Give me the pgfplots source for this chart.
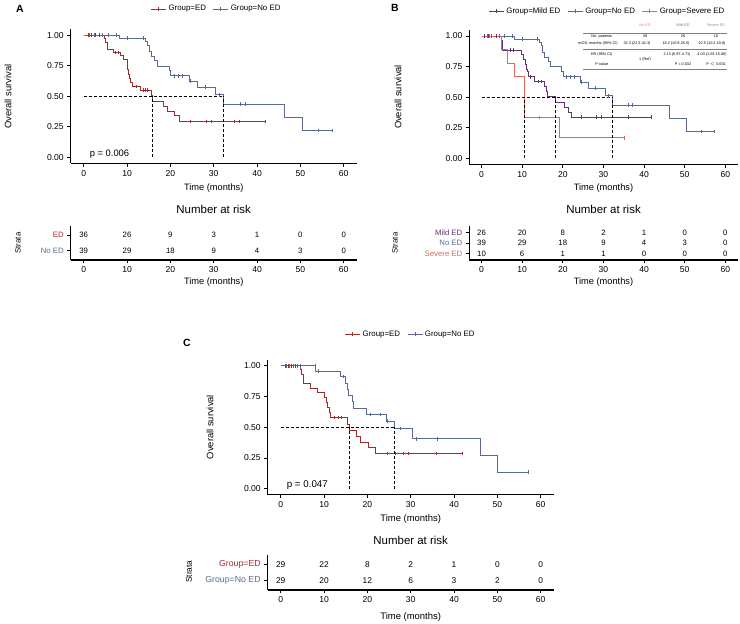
\documentclass[border=0pt]{standalone}
\usepackage{pgfplots}
\pgfplotsset{compat=1.18}
\usepackage{fontspec}
\setmainfont{Liberation Sans}

\definecolor{edred}{HTML}{9E2B2E}
\definecolor{noedblue}{HTML}{5A6A94}
\definecolor{mildpur}{HTML}{5E3470}
\definecolor{sevred}{HTML}{E0655A}

\newcommand{\fs}[1]{\fontsize{#1}{#1}\selectfont}

\pgfplotsset{
  base/.style={
    scale only axis, xmin=-3, xmax=63,
    axis lines=left, axis line style={-, line width=1.1pt, black},
    tick align=outside, major tick length=3.5bp,
    tick style={black, line width=0.8pt},
    xtick={0,10,...,60},
    /pgf/number format/assume math mode=true,
    ticklabel style={font=\fs{8.6}},
    clip=false,
  },
  kmaxis/.style={base,
    ymin=-0.05, ymax=1.05,
    ytick={0,0.25,0.5,0.75,1},
    yticklabel style={/pgf/number format/.cd, fixed, fixed zerofill, precision=2},
    legend style={draw=none, fill=none, font=\fs{7.9}, legend columns=-1,
      /tikz/every even column/.append style={column sep=5bp}},
    legend image code/.code={\draw[mark repeat=2, mark phase=2, #1]
      plot coordinates {(0bp,0bp) (7.5bp,0bp) (15bp,0bp)};},
  },
  riskaxis/.style={base,
    yticklabel style={font=\fs{7.8}},
  },
  curve/.style={#1, const plot, line width=0.9pt, forget plot},
  cens/.style={#1, only marks, mark=|, mark size=1.8bp, mark options={line width=0.7pt}, forget plot},
  leg/.style={#1, line width=0.9pt, mark=|, mark size=2bp},
  med/.style={black, dashed, dash pattern=on 3bp off 2bp, line width=0.7pt, forget plot},
  risknums/.style={only marks, mark=none, nodes near coords, point meta=explicit symbolic,
    nodes near coords align={center}, every node near coord/.append style={font=\fs{#1}, black, inner sep=0.5bp}, forget plot},
}

% Number at risk, panel A
\pgfplotstableread{
t y n
0 2 36
10 2 26
20 2 9
30 2 3
40 2 1
50 2 0
60 2 0
0 1 39
10 1 29
20 1 18
30 1 9
40 1 4
50 1 3
60 1 0
}\riskA

% Number at risk, panel B
\pgfplotstableread{
t y n
0 3 26
10 3 20
20 3 8
30 3 2
40 3 1
50 3 0
60 3 0
0 2 39
10 2 29
20 2 18
30 2 9
40 2 4
50 2 3
60 2 0
0 1 10
10 1 6
20 1 1
30 1 1
40 1 0
50 1 0
60 1 0
}\riskB

% Number at risk, panel C
\pgfplotstableread{
t y n
0 2 29
10 2 22
20 2 8
30 2 2
40 2 1
50 2 0
60 2 0
0 1 29
10 1 20
20 1 12
30 1 6
40 1 3
50 1 2
60 1 0
}\riskC

% Survival curves (cohort 1)
\pgfplotstableread{
t s
0 1
4.8 0.969
5.1 0.938
5.4 0.886
6.8 0.858
8.4 0.830
9.2 0.800
10.0 0.760
10.2 0.720
10.4 0.680
10.6 0.645
10.9 0.615
11.3 0.578
13.2 0.550
15.6 0.505
15.9 0.459
18.3 0.417
19.4 0.378
21.0 0.338
22.2 0.293
42.0 0.293
}\kmAed
\pgfplotstableread{
t s
1.1 1
1.8 1
2.8 1
3.7 1
7.3 0.858
7.9 0.858
12.2 0.578
13.8 0.550
14.3 0.550
14.8 0.550
24.7 0.293
28.3 0.293
29.5 0.293
34.8 0.293
36.0 0.293
42.0 0.293
}\cnAed
\pgfplotstableread{
t s
0 1
8.2 0.974
14.2 0.947
14.7 0.919
15.1 0.864
15.6 0.822
16.4 0.795
17.0 0.747
19.7 0.707
20.1 0.667
24.3 0.624
26.2 0.573
30.5 0.510
32.3 0.435
46.3 0.327
50.4 0.218
57.3 0.218
}\kmNoed
\pgfplotstableread{
t s
1.4 1
2.4 1
4.3 1
5.6 1
7.6 1
10.0 0.974
13.8 0.974
21.0 0.667
21.8 0.667
22.8 0.667
24.6 0.624
28.0 0.573
31.3 0.510
36.2 0.435
37.2 0.435
54.1 0.218
57.3 0.218
}\cnNoed
\pgfplotstableread{
t s
0 1
4.8 0.962
5.1 0.885
9.8 0.846
10.4 0.808
10.8 0.769
11.1 0.729
11.3 0.708
11.6 0.667
13.1 0.627
15.4 0.585
15.9 0.547
16.2 0.509
18.2 0.457
20.5 0.416
21.5 0.378
22.2 0.337
41.9 0.337
}\kmMild
\pgfplotstableread{
t s
0.8 1
1.6 1
2.5 1
3.7 1
7.0 0.885
7.8 0.885
11.9 0.667
14.0 0.627
14.8 0.627
24.6 0.337
28.2 0.337
29.6 0.337
36.1 0.337
41.9 0.337
}\cnMild
\pgfplotstableread{
t s
0 1
4.9 0.889
6.3 0.778
8.2 0.667
10.5 0.333
19.2 0.167
35.2 0.167
}\kmSev
\pgfplotstableread{
t s
2.0 1
14.3 0.333
35.2 0.167
}\cnSev

% Survival curves (cohort 2)
\pgfplotstableread{
t s
0 1
4.6 0.966
4.9 0.931
5.2 0.857
6.8 0.818
8.5 0.779
10.2 0.740
10.6 0.701
10.9 0.662
11.2 0.623
11.5 0.578
15.4 0.524
15.8 0.470
17.5 0.423
18.3 0.377
20.2 0.333
21.8 0.287
42.0 0.287
}\kmCed
\pgfplotstableread{
t s
1.0 1
1.8 1
2.5 1
3.3 1
12.4 0.578
13.2 0.578
14.0 0.578
24.6 0.287
26.4 0.287
28.2 0.287
29.5 0.287
36.0 0.287
42.0 0.287
}\cnCed
\pgfplotstableread{
t s
0 1
8.1 0.957
13.8 0.913
15.0 0.859
15.3 0.808
15.6 0.757
16.6 0.707
16.9 0.656
19.9 0.605
24.3 0.550
26.2 0.489
30.4 0.405
46.2 0.270
50.1 0.135
57.2 0.135
}\kmCnoed
\pgfplotstableread{
t s
1.2 1
2.0 1
2.9 1
3.8 1
4.6 1
7.9 1
8.6 0.957
14.4 0.913
20.6 0.605
22.9 0.605
24.7 0.550
27.6 0.489
31.4 0.405
36.2 0.405
57.2 0.135
}\cnCnoed

\begin{document}
\begin{tikzpicture}[x=1bp, y=1bp]
\useasboundingbox (0,0) rectangle (740,624);

% ---------------- Panel A ----------------
\begin{axis}[kmaxis, at={(70.7bp,460.7bp)}, anchor=south west,
  width=286bp, height=134.3bp,
  legend style={at={(0.51,1.149)}, anchor=center}]
  \addlegendimage{leg=edred}\addlegendentry{Group=ED}
  \addlegendimage{leg=noedblue}\addlegendentry{Group=No ED}
  \addplot[curve=edred] table {\kmAed};
  \addplot[curve=noedblue] table {\kmNoed};
  \addplot[cens=edred] table {\cnAed};
  \addplot[cens=noedblue] table {\cnNoed};
  \addplot[med] coordinates {(0,0.5) (32.3,0.5)};
  \addplot[med] coordinates {(15.9,0) (15.9,0.5)};
  \addplot[med] coordinates {(32.3,0) (32.3,0.5)};
  \node[anchor=west, font=\fs{9.4}] at (axis cs:0.6,0.025) {p = 0.006};
\end{axis}

\begin{axis}[riskaxis, at={(70.7bp,364bp)}, anchor=south west,
  width=286bp, height=34bp, ymin=0.4, ymax=2.6,
  ytick={1,2}, yticklabels={\textcolor{noedblue}{No ED}, \textcolor{edred}{ED}}]
  \addplot[risknums=7.8] table[x=t, y=y, meta=n] {\riskA};
\end{axis}

\node[font=\bfseries\fs{10.5}] at (20,615) {A};
\node[rotate=90, font=\fs{9.4}] at (8,527.3) {Overall survival};
\node[font=\fs{9.3}] at (213.7,436.3) {Time (months)};
\node[font=\fs{11.5}] at (213.7,415) {Number at risk};
\node[rotate=90, font=\fs{7.8}] at (18,381) {Strata};
\node[font=\fs{9.3}] at (213.7,342) {Time (months)};

% ---------------- Panel B ----------------
\begin{axis}[kmaxis, at={(469.3bp,459.6bp)}, anchor=south west,
  width=268.2bp, height=134.5bp,
  legend style={at={(0.515,1.14)}, anchor=center}]
  \addlegendimage{leg=mildpur}\addlegendentry{Group=Mild ED}
  \addlegendimage{leg=noedblue}\addlegendentry{Group=No ED}
  \addlegendimage{leg=sevred}\addlegendentry{Group=Severe ED}
  \addplot[curve=mildpur] table {\kmMild};
  \addplot[curve=noedblue] table {\kmNoed};
  \addplot[curve=sevred] table {\kmSev};
  \addplot[cens=mildpur] table {\cnMild};
  \addplot[cens=noedblue] table {\cnNoed};
  \addplot[cens=sevred] table {\cnSev};
  \addplot[med] coordinates {(0,0.5) (32.3,0.5)};
  \addplot[med] coordinates {(10.5,0) (10.5,0.5)};
  \addplot[med] coordinates {(18.2,0) (18.2,0.5)};
  \addplot[med] coordinates {(32.3,0) (32.3,0.5)};
\end{axis}

\begin{axis}[riskaxis, at={(469.3bp,364bp)}, anchor=south west,
  width=268.2bp, height=34bp, ymin=0.4, ymax=3.6,
  ytick={1,2,3}, yticklabels={\textcolor{sevred}{Severe ED}, \textcolor{noedblue}{No ED}, \textcolor{mildpur}{Mild ED}}]
  \addplot[risknums=7.8] table[x=t, y=y, meta=n] {\riskB};
\end{axis}

\node[font=\bfseries\fs{10.5}] at (395,616) {B};
\node[rotate=90, font=\fs{9.4}] at (398,527) {Overall survival};
\node[font=\fs{9.3}] at (603.5,435.7) {Time (months)};
\node[font=\fs{11.5}] at (603.5,415) {Number at risk};
\node[rotate=90, font=\fs{7.8}] at (395,381) {Strata};
\node[font=\fs{9.3}] at (603.5,342) {Time (months)};

% hazard ratio summary
\begin{scope}[font=\fs{3.8}]
  \node[text=sevred!80] at (645,599) {No ED};
  \node[text=mildpur!70] at (683,599) {Mild ED};
  \node[text=noedblue!70] at (716,599) {Severe ED};
  \draw[gray, line width=0.3bp] (583,591.3) -- (727,591.3);
  \node at (601.7,587.3) {No. patients};
  \node at (645,587.3) {39};
  \node at (683,587.3) {26};
  \node at (716,587.3) {10};
  \node at (598,580.7) {mOS, months (95\% CI)};
  \node at (637,580.7) {32.3 (22.3-42.3)};
  \node at (676,580.7) {18.2 (10.9-25.5)};
  \node at (712,580.7) {10.5 (10.2-10.8)};
  \draw[gray, line width=0.3bp] (583,574.7) -- (727,574.7);
  \node at (601.7,569) {HR (95\% CI)};
  \node at (645,564.5) {1 (Ref)};
  \node at (677,569) {2.13 (0.97-4.71)};
  \node at (712,569) {4.03 (1.03-15.88)};
  \node at (601.7,559.7) {P-value};
  \node at (683,559.7) {P = 0.032};
  \node at (716,559.7) {P $<$ 0.001};
  \draw[gray, line width=0.3bp] (583,554.7) -- (727,554.7);
\end{scope}

% ---------------- Panel C ----------------
\begin{axis}[kmaxis, at={(267.7bp,129.1bp)}, anchor=south west,
  width=286bp, height=135.3bp,
  legend style={at={(0.5,1.186)}, anchor=center}]
  \addlegendimage{leg=edred}\addlegendentry{Group=ED}
  \addlegendimage{leg=noedblue}\addlegendentry{Group=No ED}
  \addplot[curve=edred] table {\kmCed};
  \addplot[curve=noedblue] table {\kmCnoed};
  \addplot[cens=edred] table {\cnCed};
  \addplot[cens=noedblue] table {\cnCnoed};
  \addplot[med] coordinates {(0,0.5) (26.2,0.5)};
  \addplot[med] coordinates {(15.8,0) (15.8,0.5)};
  \addplot[med] coordinates {(26.2,0) (26.2,0.5)};
  \node[anchor=west, font=\fs{9.8}] at (axis cs:0.6,0.03) {p = 0.047};
\end{axis}

\begin{axis}[riskaxis, at={(267.7bp,34bp)}, anchor=south west,
  width=286bp, height=35bp, ymin=0.4, ymax=2.6,
  yticklabel style={font=\fs{8.8}},
  ytick={1,2}, yticklabels={\textcolor{noedblue}{Group=No ED}, \textcolor{edred}{Group=ED}}]
  \addplot[risknums=8.4] table[x=t, y=y, meta=n] {\riskC};
\end{axis}

\node[font=\bfseries\fs{10.5}] at (187,281) {C};
\node[rotate=90, font=\fs{9.4}] at (210,197) {Overall survival};
\node[font=\fs{9.5}] at (410.7,104.7) {Time (months)};
\node[font=\fs{11.5}] at (410.7,84) {Number at risk};
\node[rotate=90, font=\fs{8.4}] at (189,52.3) {Strata};
\node[font=\fs{9.5}] at (410.7,7.3) {Time (months)};

\end{tikzpicture}
\end{document}
